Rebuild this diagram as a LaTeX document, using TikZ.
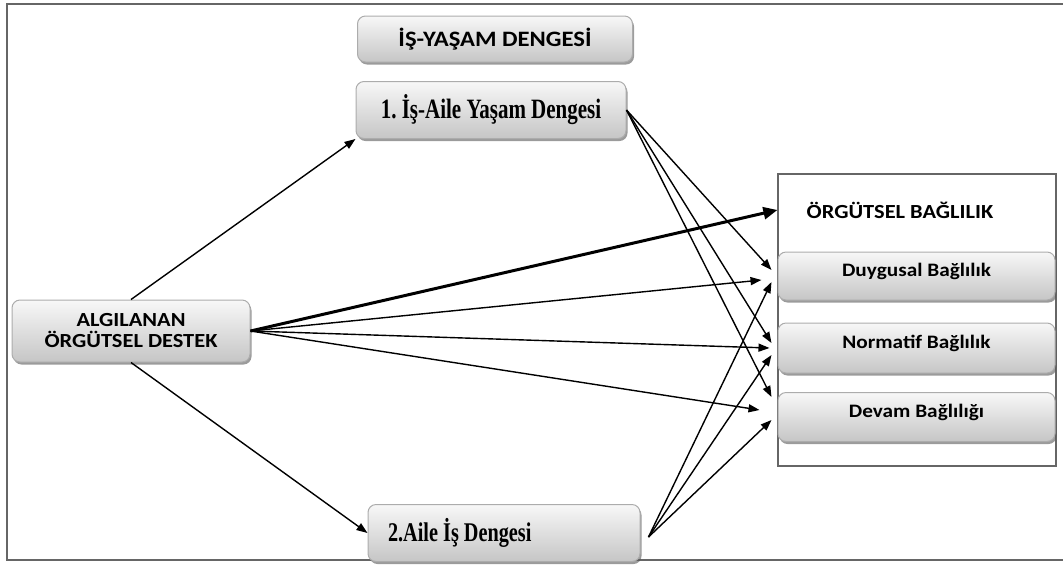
\documentclass[tikz,border=0pt]{standalone}
\usepackage{fontspec}
\setmainfont{Liberation Serif}
\newfontfamily\carlito[FakeStretch=1.12]{Carlito}
\newfontfamily\narrowserif[FakeStretch=0.75]{Liberation Serif}
\usepackage{tikz}
\usetikzlibrary{arrows.meta,positioning,calc,shadows}
\frenchspacing

\begin{document}
\begin{tikzpicture}[
  x=1pt, y=1pt,
  frameline/.style={draw=gray!80!black, line width=2.2pt},
  shadedbox/.style={draw=gray!65, line width=1pt, rounded corners=8pt,
    top color=gray!6, bottom color=gray!45, inner sep=0pt, align=center,
    drop shadow={shadow xshift=1.5pt, shadow yshift=-2.5pt, fill=gray!70!black, opacity=0.6}},
  sansbox/.style={shadedbox, font=\carlito\bfseries\fontsize{19}{21}\selectfont},
  serifbox/.style={shadedbox, font=\narrowserif\bfseries\fontsize{28}{30}\selectfont},
  dimbox/.style={sansbox, minimum width=277pt, text height=12pt, text depth=12pt},
  link/.style={-{Triangle[length=11pt,width=8pt]}, line width=1.4pt},
  mainlink/.style={-{Triangle[length=14pt,width=12pt]}, line width=3pt}
]
\useasboundingbox (0,0) rectangle (1063,-574);

% -- Outer frame (open on the right side).
\draw[frameline] (1063,-4) -- (7,-4) -- (7,-560) -- (1063,-560);

% -- Left and middle boxes.
\node[sansbox, minimum width=275pt, minimum height=46pt,
      font=\carlito\bfseries\fontsize{22}{24}\selectfont] (iy) at (495,-39) {İŞ-YAŞAM DENGESİ};
\node[serifbox, minimum width=270pt, minimum height=57pt] (ia) at (491,-110) {1. İş-Aile Yaşam Dengesi};
\node[sansbox, minimum width=238pt, minimum height=62pt,
      font=\carlito\bfseries\fontsize{20}{21}\selectfont] (aod) at (131,-331) {ALGILANAN\\ÖRGÜTSEL DESTEK};
\node[serifbox, minimum width=272pt, minimum height=57pt,
      font=\narrowserif\bfseries\fontsize{27}{29}\selectfont] (ai) at (504,-533)
      {\makebox[232pt][l]{2.Aile İş Dengesi}};

% -- Commitment frame with its three dimensions.
\node[draw=gray!80!black, line width=1.2pt, minimum width=278pt, minimum height=292pt,
      inner sep=0pt] (ob) at (917,-320) {};
\node[font=\carlito\bfseries\fontsize{20}{22}\selectfont] (obt) at (900,-210) {ÖRGÜTSEL BAĞLILIK};
\node[dimbox, minimum height=48pt] (aff) at (916.5,-276) {Duygusal Bağlılık};
\node[dimbox, minimum height=50pt] (norm) at (916.5,-348) {Normatif Bağlılık};
\node[dimbox, minimum height=49pt] (cont) at (916.5,-417) {Devam Bağlılığı};

% -- Paths out of perceived support.
\draw[link] (aod.north) -- (ia.south west);
\draw[link] (aod.south) -- (ai.west);
\draw[mainlink] (aod.east) -- (obt.west -| ob.west);
\draw[link] (aod.east) -- ($(aff.west)+(-16,-4)$);
\draw[link] (aod.east) -- ($(norm.west)+(-8,0)$);
\draw[link] (aod.east) -- ($(cont.west)+(-18,7)$);

% -- Paths out of the two balance boxes.
\draw[link] (ia.east) -- ($(aff.west)+(-6,6)$);
\draw[link] (ia.east) -- ($(norm.west)+(-6,5)$);
\draw[link] (ia.east) -- ($(cont.west)+(-6,20)$);
\coordinate (aiout) at ($(ai.east)+(8,-4)$);
\draw[link] (aiout) -- ($(aff.west)+(-6,-6)$);
\draw[link] (aiout) -- ($(norm.west)+(-6,-7)$);
\draw[link] (aiout) -- ($(cont.west)+(-6,-3)$);
\end{tikzpicture}
\end{document}
